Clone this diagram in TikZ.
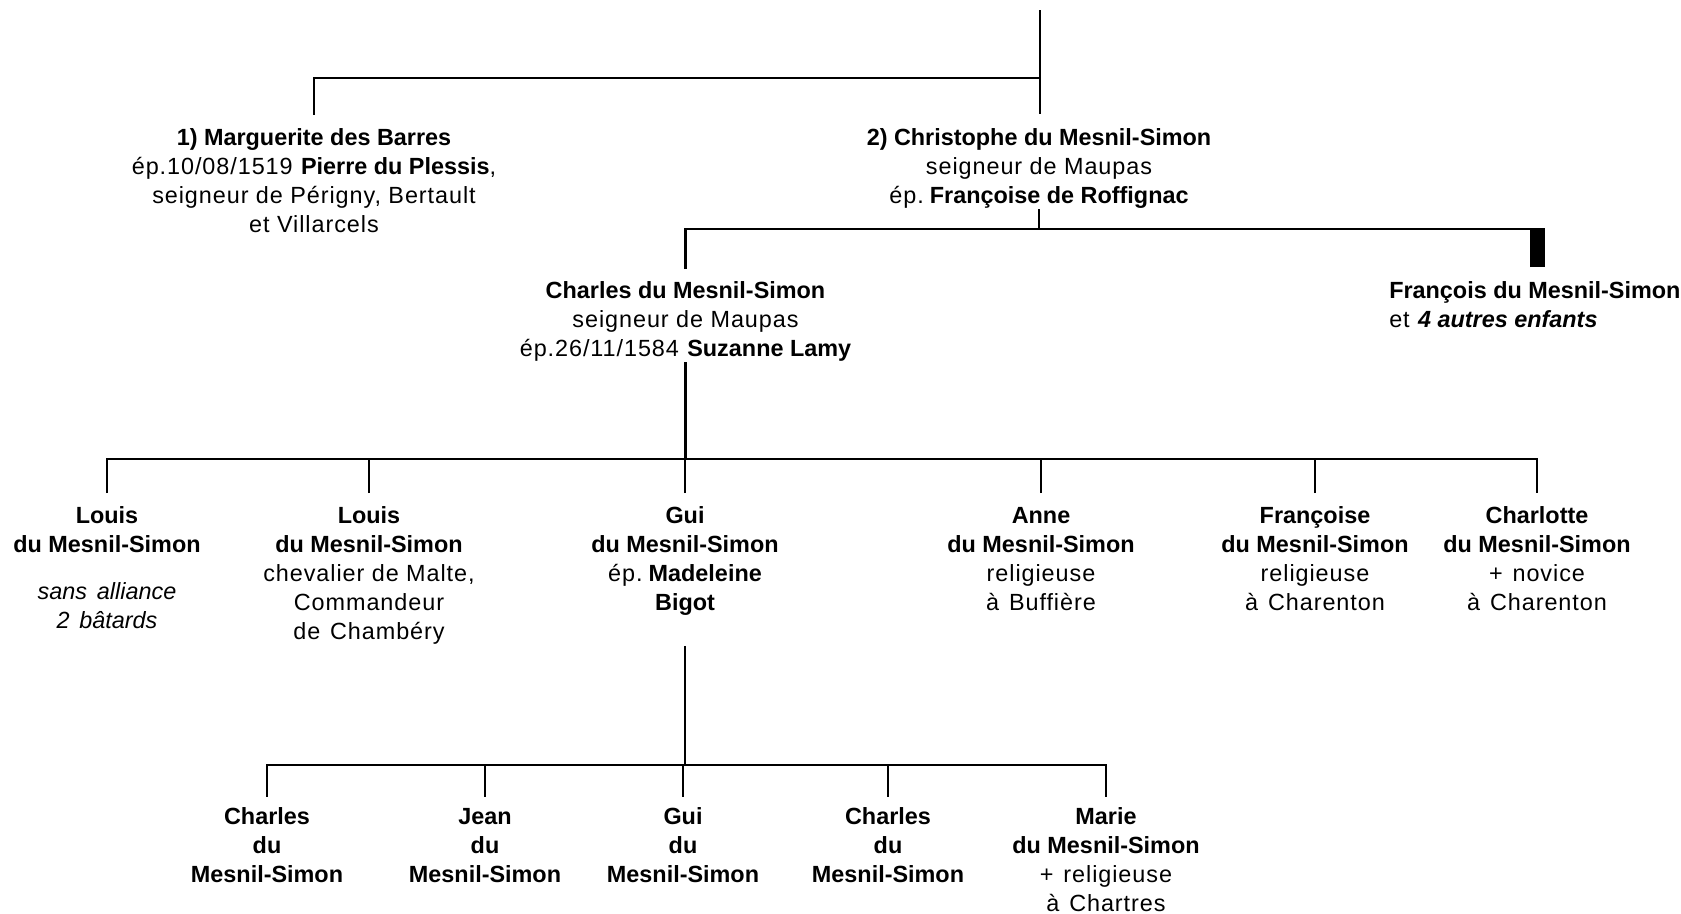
\documentclass[tikz,border=0pt]{standalone}
\usepackage{fontspec}
\setmainfont{Liberation Sans}[UprightFeatures={LetterSpace=4}]
\newcommand\fs{\fontsize{23.4}{29}\selectfont}
\newcommand\fl{\rule{0pt}{18pt}}
\newcommand\ws{\hspace{0.42em}}
\newcommand\es{\hspace{0.22em}}
\begin{document}
\begin{tikzpicture}[x=1pt,y=-1pt,line width=2.5pt,
  person/.style={anchor=north,align=center,inner sep=0pt,font=\fs}]
\useasboundingbox (0,0) rectangle (1681,913);

% generation 1 (root connector)
\coordinate (root) at (1040,10);

% generation 2
\node[person] (marg) at (314,126) {\fl\textbf{1) Marguerite des Barres}\\
  ép.10/08/1519 \textbf{Pierre du Plessis},\\
  seigneur de Périgny, Bertault\\
  et Villarcels};
\node[person] (chris) at (1039,126) {\fl\textbf{2) Christophe du Mesnil-Simon}\\
  seigneur de Maupas\\
  ép.\es\textbf{Françoise de Roffignac}};

% generation 3
\node[person] (charles) at (685.5,279) {\fl\textbf{Charles du Mesnil-Simon}\\
  seigneur de Maupas\\
  ép.26/11/1584 \textbf{Suzanne Lamy}};
\node[person,anchor=north west,align=left] (franc) at (1388,279) {\fl\textbf{François du Mesnil-Simon}\\
  et \textbf{\textit{4 autres enfants}}};

% generation 4
\node[person] (louisA) at (107,504.5) {\fl\textbf{Louis}\\ \textbf{du Mesnil-Simon}\\[18pt]
  \textit{sans\ws alliance}\\ \textit{2\ws bâtards}};
\node[person] (louisB) at (369,504.5) {\fl\textbf{Louis}\\ \textbf{du Mesnil-Simon}\\
  chevalier de Malte,\\ Commandeur\\ de\ws Chambéry};
\node[person] (gui) at (685,504.5) {\fl\textbf{Gui}\\ \textbf{du Mesnil-Simon}\\
  ép.\es\textbf{Madeleine}\\ \textbf{Bigot}};
\node[person] (anne) at (1041,504.5) {\fl\textbf{Anne}\\ \textbf{du Mesnil-Simon}\\
  religieuse\\ à\ws Buffière};
\node[person] (fcs) at (1315,504.5) {\fl\textbf{Françoise}\\ \textbf{du Mesnil-Simon}\\
  religieuse\\ à\ws Charenton};
\node[person] (charl) at (1537,504.5) {\fl\textbf{Charlotte}\\ \textbf{du Mesnil-Simon}\\
  +\ws novice\\ à\ws Charenton};

% generation 5
\node[person] (cA) at (267,805) {\fl\textbf{Charles}\\ \textbf{du}\\ \textbf{Mesnil-Simon}};
\node[person] (jean) at (485,805) {\fl\textbf{Jean}\\ \textbf{du}\\ \textbf{Mesnil-Simon}};
\node[person] (guiB) at (683,805) {\fl\textbf{Gui}\\ \textbf{du}\\ \textbf{Mesnil-Simon}};
\node[person] (cB) at (888,805) {\fl\textbf{Charles}\\ \textbf{du}\\ \textbf{Mesnil-Simon}};
\node[person] (marie) at (1106,805) {\fl\textbf{Marie}\\ \textbf{du Mesnil-Simon}\\
  +\ws religieuse\\ à\ws Chartres};

% drop end points
\path (marg.north) ++(0,-11.3) coordinate (margT);
\path (chris.north) ++(1,-12) coordinate (chrisT);
\path (charles.north) ++(0,-10) coordinate (charlesT);
\path (franc.north west) ++(149.5,-12) coordinate (francT);
\path (francT) ++(7.5,-38) coordinate (francR);
\foreach \n in {louisA,louisB,gui,anne,fcs,charl}{\path (\n.north) ++(0,-11.5) coordinate (\n T);}
\foreach \n in {cA,jean,guiB,cB,marie}{\path (\n.north) ++(0,-8.5) coordinate (\n T);}

% connectors
\draw (root) -- (chrisT);
\draw (root |- 0,78) -| (margT);

\draw (chris.south) -- (chris.south |- 0,229);
\draw (charlesT) |- (francR);
\draw[line width=15pt] (francT) -- (francT |- francR);

\draw (charles.south) -- (charles.south |- 0,459);
\draw (louisAT) -- ++(0,-34) -| (charlT);
\foreach \n in {louisB,gui,anne,fcs}{\draw (\n T) -- ++(0,-34);}

\path (gui.south) ++(0,29) coordinate (guiD);
\draw (guiD) -- (guiD |- 0,765);
\draw (cAT) -- ++(0,-31.5) -| (marieT);
\foreach \n in {jean,guiB,cB}{\draw (\n T) -- ++(0,-31.5);}
\end{tikzpicture}
\end{document}
